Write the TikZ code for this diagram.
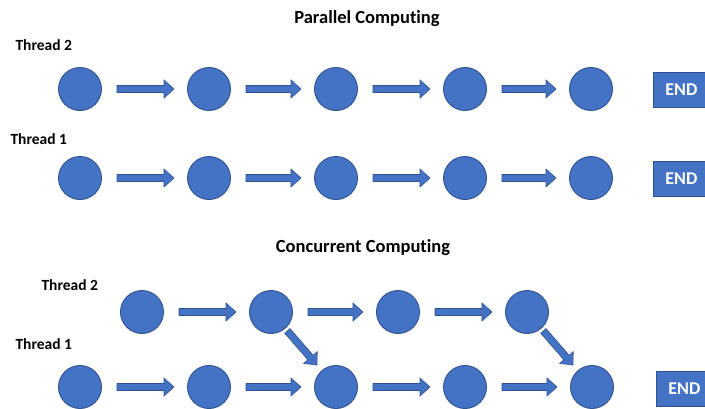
\documentclass[tikz,border=0pt]{standalone}
\usepackage{fontspec}
\setmainfont{Carlito}[Ligatures=NoCommon]
\usetikzlibrary{calc}
\definecolor{cfill}{HTML}{4472C4}
\definecolor{cline}{HTML}{2F528F}
\tikzset{
  dot/.style={circle, fill=cfill, draw=cline, line width=0.9pt, minimum size=43pt, inner sep=0pt},
  endbox/.style={rectangle, fill=cfill, draw=cline, line width=0.9pt, minimum width=56pt, minimum height=35pt, text=white, font=\bfseries\fontsize{18}{18}\selectfont, anchor=west},
  blockarrow/.style={fill=cfill, draw=cline, line width=0.6pt, line join=miter},
  title/.style={font=\bfseries\fontsize{18.5}{18.5}\selectfont},
  lbl/.style={font=\bfseries\fontsize{15.5}{15.5}\selectfont, anchor=west}
}
\newcommand\barrow[4]{%
  \coordinate (bS) at ($(#1)!#3!(#2)$);
  \coordinate (bE) at ($(#2)!#4!(#1)$);
  \coordinate (bH) at ($(bE)!10pt!(bS)$);
  \filldraw[blockarrow] ($(bS)!3.5pt!90:(bE)$) -- ($(bH)!3.5pt!90:(bE)$) -- ($(bH)!9pt!90:(bE)$) -- (bE)
    -- ($(bH)!9pt!-90:(bE)$) -- ($(bH)!3.5pt!-90:(bE)$) -- ($(bS)!3.5pt!-90:(bE)$) -- cycle;
}
\begin{document}
\begin{tikzpicture}[x=1pt,y=-1pt]
\useasboundingbox (0,0) rectangle (705,408);
\fill[white] (0,0) rectangle (705,408);
% titles and labels
\node[title] (t1) at (367,19) {Parallel Computing};
\node[title] (t2) at (363,248) {Concurrent Computing};
\node[lbl] (l1) at (12,45) {Thread 2};
\node[lbl] (l2) at (7,139) {Thread 1};
\node[lbl] (l3) at (38,285) {Thread 2};
\node[lbl] (l4) at (12,344) {Thread 1};
% parallel rows
\foreach \i/\x in {1/80,2/209,3/336,4/465,5/591}{
  \node[dot] (a\i) at (\x,89) {};
  \node[dot] (b\i) at (\x,178) {};
}
\node[endbox] (e1) at (653,90) {END};
\node[endbox] (e2) at (653,179) {END};
\foreach \i/\j in {1/2,2/3,3/4,4/5}{
  \barrow{a\i}{a\j}{37pt}{35pt}
  \barrow{b\i}{b\j}{37pt}{35pt}
}
% concurrent rows
\foreach \i/\x in {1/142,2/271,3/398,4/527}{
  \node[dot] (c\i) at (\x,312) {};
}
\foreach \i/\x in {1/80,2/209,3/336,4/465,5/592}{
  \node[dot] (d\i) at (\x,387) {};
}
\node[endbox] (e3) at (656,389) {END};
\foreach \i/\j in {1/2,2/3,3/4}{
  \barrow{c\i}{c\j}{37pt}{35pt}
}
\foreach \i/\j in {1/2,2/3,3/4,4/5}{
  \barrow{d\i}{d\j}{37pt}{35pt}
}
\barrow{c2}{d3}{25pt}{29pt}
\barrow{c4}{d5}{25pt}{29pt}
\end{tikzpicture}
\end{document}
